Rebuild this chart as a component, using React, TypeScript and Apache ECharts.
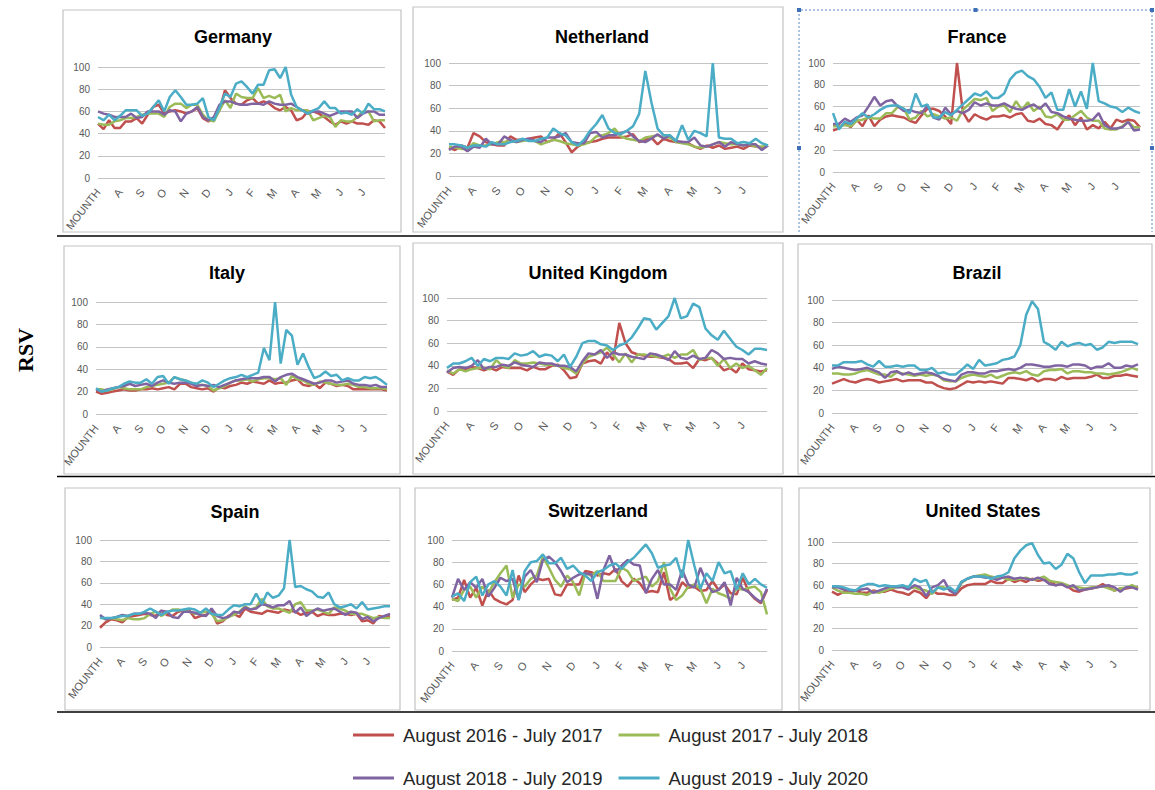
import React, { useEffect, useRef } from "react";
import * as echarts from "echarts";

// ---------- data ----------
const countries = ["Germany", "Netherland", "France", "Italy", "United Kingdom", "Brazil", "Spain", "Switzerland", "United States"];
const seasons = ["August 2016 - July 2017", "August 2017 - July 2018", "August 2018 - July 2019", "August 2019 - July 2020"];
const seasonColors = ["#C0504D", "#9BBB59", "#8064A2", "#4BACC6"];
const monthTicks = ["MOUNTH", "A", "S", "O", "N", "D", "J", "F", "M", "A", "M", "J", "J"];
const weeks = Array.from({ length: 53 }, (_, i) => "W" + (i + 1));
const yAxisTicks = { min: 0, max: 100, step: 20 };

const germany1617 = [49, 44, 52, 45, 45, 51, 51, 54, 49, 57, 64, 66, 58, 60, 61, 60, 58, 60, 63, 54, 51, 54, 61, 79, 72, 67, 66, 70, 72, 67, 69, 67, 63, 61, 64, 61, 52, 54, 60, 60, 58, 55, 51, 48, 51, 49, 51, 49, 49, 48, 52, 51, 45];
const germany1718 = [49, 48, 48, 51, 52, 54, 54, 55, 57, 58, 58, 58, 55, 64, 67, 67, 63, 66, 66, 57, 52, 51, 61, 70, 63, 76, 73, 72, 72, 81, 72, 74, 72, 75, 60, 63, 61, 61, 61, 52, 54, 56, 55, 46, 52, 51, 51, 55, 60, 60, 51, 52, 52];
const germany1819 = [60, 58, 57, 55, 55, 55, 58, 54, 55, 60, 60, 60, 57, 61, 60, 51, 58, 60, 64, 55, 52, 55, 66, 69, 69, 67, 66, 66, 67, 67, 66, 69, 67, 66, 66, 67, 64, 61, 58, 60, 60, 58, 56, 58, 60, 60, 60, 54, 58, 60, 60, 57, 57];
const germany1920 = [55, 52, 57, 52, 56, 61, 61, 61, 56, 58, 64, 70, 60, 73, 79, 73, 66, 66, 67, 72, 55, 52, 63, 76, 73, 85, 87, 82, 76, 84, 84, 97, 98, 90, 100, 75, 64, 61, 58, 61, 63, 69, 63, 63, 58, 59, 57, 62, 58, 67, 62, 62, 60];

const netherland1617 = [25, 23, 27, 25, 38, 35, 30, 28, 27, 27, 35, 32, 32, 33, 34, 35, 30, 32, 38, 30, 21, 26, 29, 30, 31, 33, 34, 34, 34, 35, 37, 30, 32, 34, 28, 33, 31, 30, 30, 29, 26, 24, 27, 25, 27, 24, 25, 26, 24, 27, 26, 25, 27];
const netherland1718 = [26, 25, 24, 24, 29, 27, 27, 28, 30, 30, 31, 30, 31, 32, 31, 28, 30, 32, 31, 29, 28, 27, 28, 30, 35, 36, 38, 42, 35, 33, 32, 31, 34, 35, 36, 34, 34, 30, 29, 28, 26, 25, 26, 28, 30, 29, 28, 28, 27, 28, 26, 26, 27];
const netherland1819 = [23, 26, 26, 22, 26, 25, 33, 28, 28, 35, 32, 30, 32, 33, 31, 30, 34, 34, 35, 38, 30, 29, 29, 38, 39, 34, 36, 36, 38, 40, 35, 31, 30, 33, 37, 33, 36, 31, 30, 30, 34, 27, 26, 28, 30, 26, 30, 28, 27, 28, 28, 23, 27];
const netherland1920 = [28, 28, 27, 25, 27, 27, 26, 30, 28, 28, 30, 31, 33, 31, 31, 33, 34, 42, 38, 36, 30, 27, 32, 40, 46, 54, 42, 38, 37, 40, 44, 55, 93, 65, 42, 36, 36, 31, 45, 32, 40, 38, 35, 100, 34, 33, 33, 29, 30, 29, 33, 29, 27];

const france1617 = [38, 40, 45, 41, 48, 42, 52, 42, 48, 51, 52, 51, 50, 47, 45, 52, 58, 58, 56, 51, 44, 100, 55, 46, 53, 50, 48, 51, 51, 52, 50, 53, 54, 47, 46, 49, 44, 43, 39, 47, 52, 43, 50, 39, 43, 40, 46, 40, 48, 46, 48, 47, 41];
const france1718 = [42, 42, 43, 42, 47, 48, 50, 49, 49, 54, 54, 60, 58, 48, 50, 56, 51, 53, 51, 49, 50, 47, 57, 62, 67, 66, 68, 56, 60, 61, 55, 65, 57, 64, 56, 60, 51, 50, 53, 48, 48, 52, 56, 50, 47, 47, 40, 39, 39, 42, 46, 41, 41];
const france1819 = [44, 44, 49, 46, 50, 52, 60, 69, 61, 65, 66, 60, 56, 57, 55, 54, 61, 50, 48, 59, 53, 56, 54, 57, 64, 61, 63, 61, 61, 63, 60, 58, 57, 60, 62, 58, 63, 55, 54, 51, 49, 48, 47, 47, 48, 54, 43, 40, 40, 41, 46, 38, 39];
const france1920 = [54, 39, 46, 44, 49, 54, 50, 53, 57, 60, 61, 61, 58, 54, 72, 60, 62, 50, 50, 55, 52, 57, 62, 67, 72, 70, 74, 68, 68, 72, 85, 91, 93, 88, 85, 78, 68, 73, 57, 57, 76, 60, 74, 58, 100, 65, 63, 60, 59, 55, 59, 56, 54];

const italy1617 = [20, 18, 19, 20, 21, 22, 21, 21, 22, 22, 23, 22, 23, 24, 22, 27, 27, 24, 23, 22, 23, 20, 24, 23, 25, 26, 28, 27, 29, 28, 27, 30, 27, 28, 28, 30, 31, 26, 25, 27, 23, 28, 27, 25, 26, 25, 22, 22, 22, 22, 22, 22, 21];
const italy1718 = [22, 22, 21, 22, 24, 23, 22, 22, 22, 24, 25, 26, 27, 28, 33, 31, 30, 28, 26, 26, 25, 21, 23, 25, 28, 30, 30, 31, 29, 31, 32, 32, 31, 32, 26, 34, 31, 30, 27, 26, 29, 28, 27, 26, 26, 27, 26, 24, 24, 23, 23, 23, 22];
const italy1819 = [22, 20, 22, 23, 24, 25, 27, 25, 26, 27, 25, 28, 30, 28, 27, 28, 28, 27, 25, 26, 25, 26, 24, 26, 28, 30, 31, 32, 32, 32, 33, 33, 29, 33, 35, 36, 33, 31, 29, 27, 28, 30, 30, 28, 29, 30, 27, 26, 26, 25, 26, 24, 24];
const italy1920 = [23, 20, 21, 23, 24, 27, 29, 28, 28, 31, 27, 33, 34, 27, 33, 31, 30, 28, 27, 30, 28, 24, 27, 30, 32, 33, 35, 33, 35, 37, 59, 48, 100, 45, 75, 70, 44, 54, 42, 32, 34, 38, 34, 35, 30, 32, 30, 30, 33, 32, 33, 30, 26];

const uk1617 = [35, 32, 37, 37, 39, 38, 36, 38, 36, 39, 38, 38, 38, 36, 39, 37, 37, 40, 41, 36, 29, 30, 42, 44, 45, 42, 52, 45, 78, 60, 52, 50, 49, 48, 48, 47, 46, 42, 42, 43, 38, 46, 45, 47, 42, 36, 38, 34, 42, 37, 36, 35, 36];
const uk1718 = [36, 33, 37, 35, 37, 38, 38, 37, 45, 40, 38, 45, 42, 42, 43, 42, 41, 41, 40, 38, 37, 33, 42, 48, 50, 52, 56, 50, 43, 51, 43, 50, 50, 49, 48, 48, 50, 47, 50, 50, 54, 45, 47, 47, 40, 46, 38, 42, 38, 40, 36, 32, 38];
const uk1819 = [34, 38, 39, 38, 40, 45, 37, 39, 39, 41, 40, 43, 41, 40, 39, 43, 42, 42, 40, 40, 39, 35, 44, 51, 50, 54, 47, 52, 50, 50, 48, 47, 46, 51, 50, 48, 45, 53, 47, 46, 49, 46, 47, 54, 51, 46, 47, 46, 46, 42, 44, 42, 41];
const uk1920 = [38, 42, 42, 44, 47, 40, 46, 44, 47, 47, 46, 51, 49, 50, 53, 48, 50, 49, 44, 50, 39, 48, 60, 62, 62, 59, 58, 54, 58, 60, 65, 73, 82, 81, 72, 78, 84, 100, 82, 84, 95, 92, 73, 67, 63, 71, 64, 57, 54, 50, 55, 55, 54];

const brazil1617 = [26, 28, 30, 28, 27, 29, 30, 29, 27, 28, 29, 30, 28, 29, 29, 29, 27, 27, 24, 22, 21, 22, 25, 28, 27, 28, 27, 28, 27, 26, 31, 31, 30, 29, 31, 28, 30, 30, 29, 32, 30, 31, 31, 31, 32, 34, 31, 31, 33, 33, 34, 33, 32];
const brazil1718 = [35, 35, 34, 34, 35, 37, 38, 36, 34, 34, 32, 36, 35, 34, 33, 34, 33, 34, 33, 29, 28, 28, 31, 33, 34, 33, 32, 34, 31, 33, 35, 36, 35, 37, 34, 33, 37, 38, 38, 39, 35, 37, 37, 36, 36, 35, 35, 34, 35, 36, 38, 40, 38];
const brazil1819 = [39, 41, 40, 39, 38, 39, 40, 38, 36, 31, 36, 37, 34, 36, 34, 35, 36, 35, 33, 30, 29, 28, 34, 36, 36, 35, 35, 37, 37, 38, 39, 38, 40, 43, 43, 42, 41, 41, 42, 42, 41, 43, 43, 42, 39, 41, 41, 44, 40, 40, 42, 41, 43];
const brazil1920 = [42, 42, 45, 45, 45, 46, 43, 41, 46, 41, 41, 42, 41, 42, 42, 38, 38, 40, 35, 36, 34, 34, 38, 43, 39, 47, 42, 43, 44, 47, 48, 50, 60, 87, 99, 92, 63, 60, 56, 63, 59, 61, 62, 60, 61, 56, 58, 63, 62, 63, 63, 63, 61];

const spain1617 = [18, 23, 26, 25, 23, 28, 29, 30, 31, 30, 29, 34, 30, 29, 33, 34, 34, 27, 29, 30, 34, 22, 24, 29, 31, 28, 36, 33, 32, 31, 34, 33, 32, 35, 34, 33, 30, 32, 33, 29, 31, 30, 30, 31, 31, 30, 31, 24, 25, 22, 29, 28, 29];
const spain1718 = [28, 26, 27, 26, 25, 27, 26, 26, 27, 31, 33, 29, 32, 35, 35, 34, 33, 31, 32, 33, 31, 24, 25, 28, 30, 33, 38, 35, 37, 45, 38, 36, 36, 34, 32, 40, 42, 34, 34, 35, 33, 31, 37, 36, 34, 31, 31, 31, 29, 27, 28, 27, 27];
const spain1819 = [30, 26, 27, 28, 30, 29, 31, 31, 32, 31, 27, 34, 33, 28, 27, 33, 33, 32, 30, 29, 36, 29, 27, 28, 33, 32, 37, 35, 36, 40, 39, 37, 39, 39, 43, 32, 37, 29, 33, 36, 34, 35, 36, 33, 30, 33, 32, 26, 28, 24, 27, 29, 31];
const spain1920 = [27, 27, 27, 28, 29, 29, 31, 31, 33, 36, 33, 30, 33, 34, 34, 35, 36, 35, 32, 36, 31, 30, 30, 35, 39, 38, 40, 40, 50, 40, 51, 46, 48, 55, 100, 56, 57, 54, 52, 47, 46, 51, 40, 37, 38, 40, 36, 42, 35, 36, 37, 38, 38];

const switzerland1617 = [46, 48, 64, 48, 57, 41, 55, 47, 44, 42, 46, 68, 53, 60, 65, 64, 65, 51, 50, 60, 60, 60, 72, 71, 68, 70, 69, 74, 63, 58, 65, 61, 53, 54, 53, 71, 46, 50, 62, 57, 58, 54, 55, 63, 55, 60, 52, 51, 66, 53, 47, 43, 55];
const switzerland1718 = [47, 45, 55, 58, 48, 58, 52, 62, 70, 77, 48, 60, 58, 65, 68, 85, 75, 64, 58, 68, 62, 50, 70, 68, 72, 63, 63, 63, 75, 72, 63, 65, 67, 58, 63, 80, 56, 46, 50, 58, 60, 56, 43, 56, 52, 50, 47, 57, 55, 57, 58, 53, 33];
const switzerland1819 = [48, 65, 55, 62, 57, 65, 49, 57, 66, 63, 65, 46, 67, 73, 62, 82, 85, 80, 72, 62, 66, 69, 70, 69, 47, 73, 86, 71, 77, 82, 78, 77, 52, 65, 73, 60, 60, 55, 73, 60, 57, 75, 62, 53, 55, 62, 41, 66, 56, 53, 48, 44, 56];
const switzerland1920 = [49, 52, 45, 62, 67, 50, 60, 63, 58, 50, 73, 46, 72, 80, 81, 87, 79, 79, 84, 74, 77, 71, 68, 63, 71, 73, 77, 79, 74, 80, 84, 90, 96, 88, 75, 77, 78, 84, 66, 100, 77, 56, 70, 63, 80, 70, 72, 55, 70, 60, 65, 60, 57];

const us1617 = [54, 51, 54, 53, 55, 53, 53, 55, 54, 54, 56, 54, 53, 51, 55, 53, 48, 55, 52, 52, 51, 51, 57, 60, 61, 61, 61, 64, 62, 62, 66, 63, 65, 63, 66, 64, 65, 64, 60, 61, 59, 55, 54, 56, 57, 58, 61, 58, 55, 57, 57, 58, 58];
const us1718 = [58, 55, 53, 53, 52, 52, 51, 54, 53, 55, 57, 58, 59, 57, 58, 56, 55, 52, 58, 58, 56, 52, 62, 66, 68, 69, 70, 68, 67, 67, 65, 65, 66, 67, 65, 66, 68, 64, 63, 62, 60, 58, 58, 57, 58, 58, 59, 57, 55, 57, 58, 60, 57];
const us1819 = [58, 58, 56, 55, 55, 56, 57, 53, 55, 57, 59, 58, 58, 56, 60, 58, 50, 58, 60, 65, 55, 52, 63, 66, 68, 68, 67, 67, 65, 67, 68, 66, 67, 66, 65, 67, 65, 61, 60, 61, 58, 60, 55, 56, 57, 58, 59, 60, 58, 54, 58, 58, 56];
const us1920 = [59, 59, 58, 56, 55, 59, 61, 61, 59, 60, 59, 59, 60, 58, 66, 63, 65, 53, 58, 56, 58, 54, 63, 66, 68, 68, 68, 66, 68, 69, 72, 85, 92, 97, 99, 88, 80, 81, 75, 79, 89, 85, 72, 62, 69, 69, 69, 70, 70, 71, 70, 70, 72];

const panelSeries = [
  [germany1617, germany1718, germany1819, germany1920],
  [netherland1617, netherland1718, netherland1819, netherland1920],
  [france1617, france1718, france1819, france1920],
  [italy1617, italy1718, italy1819, italy1920],
  [uk1617, uk1718, uk1819, uk1920],
  [brazil1617, brazil1718, brazil1819, brazil1920],
  [spain1617, spain1718, spain1819, spain1920],
  [switzerland1617, switzerland1718, switzerland1819, switzerland1920],
  [us1617, us1718, us1819, us1920],
];

// ---------- layout (pixels) ----------
type Layout = { box: number[]; grid: number[]; title: number[]; selected?: boolean };
const layout: Layout[] = [
  { box: [63, 10, 338, 222], grid: [98, 67, 287, 111], title: [233, 37] },
  { box: [413, 7, 370, 225], grid: [449, 63, 319, 113], title: [602, 37] },
  { box: [799, 10, 353, 222], grid: [833, 63, 307, 109], title: [977, 37], selected: true },
  { box: [64, 246, 336, 228], grid: [96, 302, 291, 112], title: [227, 273] },
  { box: [413, 243, 370, 231], grid: [447, 298, 320, 113], title: [598, 273] },
  { box: [798, 244, 354, 230], grid: [832, 300, 306, 113], title: [977, 273] },
  { box: [65, 488, 335, 222], grid: [100, 540, 290, 107], title: [235, 512] },
  { box: [415, 488, 367, 222], grid: [452, 540, 315, 111], title: [598, 511] },
  { box: [799, 488, 351, 222], grid: [832, 542, 306, 108], title: [983, 511] },
];

const FONT = '"Liberation Sans", Arial, sans-serif';

function buildOption() {
  const grid: any[] = [];
  const xAxis: any[] = [];
  const yAxis: any[] = [];
  const series: any[] = [];
  const graphic: any[] = [];

  layout.forEach((l, p) => {
    const [gl, gt, gw, gh] = l.grid;
    grid.push({ left: gl, top: gt, width: gw, height: gh, containLabel: false });
    xAxis.push({
      type: "category",
      gridIndex: p,
      data: weeks,
      boundaryGap: false,
      axisLine: { show: false },
      axisTick: { show: false },
      splitLine: { show: false },
      axisLabel: {
        interval: 0,
        rotate: 52,
        fontSize: 11,
        fontFamily: FONT,
        color: "#595959",
        margin: 12,
        formatter: (_v: string, i: number) => (i % 4 === 0 && monthTicks[i / 4] ? monthTicks[i / 4] : ""),
      },
    });
    yAxis.push({
      type: "value",
      gridIndex: p,
      min: yAxisTicks.min,
      max: yAxisTicks.max,
      interval: yAxisTicks.step,
      axisLine: { show: false },
      axisTick: { show: false },
      axisLabel: { fontSize: 10, fontFamily: FONT, color: "#595959", margin: 8 },
      splitLine: { lineStyle: { color: "#c4c4c4", width: 1 } },
    });
    panelSeries[p].forEach((vals, s) => {
      series.push({
        type: "line",
        name: seasons[s],
        xAxisIndex: p,
        yAxisIndex: p,
        data: vals,
        symbol: "none",
        showSymbol: false,
        silent: true,
        lineStyle: { width: 2.5, color: seasonColors[s] },
        itemStyle: { color: seasonColors[s] },
        emphasis: { disabled: true },
      });
    });

    const [bx, by, bw, bh] = l.box;
    if (l.selected) {
      graphic.push({
        type: "polyline",
        silent: true,
        shape: { points: [[bx, by + bh], [bx, by], [bx + bw, by], [bx + bw, by + bh]] },
        style: { stroke: "#5a86c8", lineWidth: 1, lineDash: [2, 2], fill: null },
      });
      [[bx, by], [bx + bw / 2, by], [bx + bw, by], [bx, 148], [bx + bw, 148]].forEach(([hx, hy]) => {
        graphic.push({ type: "rect", silent: true, shape: { x: hx - 2, y: hy - 2, width: 4, height: 4 }, style: { fill: "#3d6fb6" } });
      });
    } else {
      graphic.push({
        type: "rect",
        silent: true,
        shape: { x: bx, y: by, width: bw, height: bh },
        style: { fill: null, stroke: "#c3c3c3", lineWidth: 1.2 },
      });
    }
    graphic.push({
      type: "text",
      silent: true,
      x: l.title[0],
      y: l.title[1],
      style: {
        text: countries[p],
        fontSize: 18,
        fontWeight: "bold",
        fontFamily: FONT,
        fill: "#000",
        align: "center",
        verticalAlign: "middle",
      },
    });
  });

  [236, 476.5, 712].forEach((y) => {
    graphic.push({ type: "line", silent: true, shape: { x1: 57, y1: y, x2: 1155, y2: y }, style: { stroke: "#000", lineWidth: 1.5 } });
  });

  graphic.push({
    type: "text",
    silent: true,
    x: 25,
    y: 350,
    rotation: Math.PI / 2,
    style: {
      text: "RSV",
      fontSize: 22,
      fontWeight: "bold",
      fontFamily: '"Liberation Serif", "Times New Roman", serif',
      fill: "#000",
      align: "center",
      verticalAlign: "middle",
    },
  });

  const legendBase = {
    orient: "horizontal",
    left: 353,
    icon: "rect",
    itemWidth: 41,
    itemHeight: 3,
    itemGap: 16,
    padding: 0,
    selectedMode: false,
    textStyle: { fontSize: 18.5, fontFamily: FONT, color: "#262626", lineHeight: 20, padding: [0, 0, 0, 4] },
  };

  return {
    animation: false,
    backgroundColor: "#ffffff",
    grid,
    xAxis,
    yAxis,
    series,
    graphic,
    legend: [
      { ...legendBase, top: 725, data: [seasons[0], seasons[1]] },
      { ...legendBase, top: 768, data: [seasons[2], seasons[3]] },
    ],
  };
}

export default function App() {
  const ref = useRef<HTMLDivElement>(null);
  useEffect(() => {
    if (!ref.current) return;
    const chart = echarts.init(ref.current, undefined, { renderer: "svg" });
    chart.setOption(buildOption() as any);
    return () => chart.dispose();
  }, []);
  return (
    <div
      ref={ref}
      style={{ position: "fixed", left: 0, top: 0, width: 1155, height: 790, background: "#fff" }}
    />
  );
}
